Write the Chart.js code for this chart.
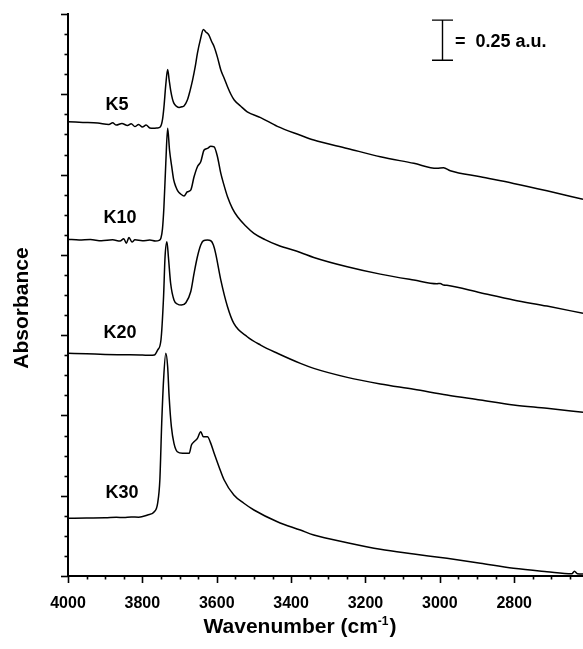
<!DOCTYPE html>
<html><head><meta charset="utf-8">
<script src="https://cdn.jsdelivr.net/npm/chart.js@4/dist/chart.umd.min.js"></script>
<style>html,body{margin:0;padding:0;background:#fff}canvas{display:block}</style>
</head><body>
<canvas id="c" width="583" height="649"></canvas>
<script>
// ---- data (wavenumber in cm-1, absorbance in a.u., offset spectra) ----
const k5Wn  = [4000,3960,3920,3890,3880,3870,3855,3840,3830,3820,3810,3800,3790,3780,3770,3760,3752,3746,3742,3737,3732,3728,3724,3719,3715,3708,3701,3694,3688,3679,3672,3665,3658,3652,3644,3636,3630,3621,3614,3607,3598,3589,3580,3571,3562,3553,3536,3518,3482,3437,3375,3339,3249,3160,3070,3008,2990,2972,2891,2802,2712,2615];
const k5Abs = [2.829,2.825,2.821,2.812,2.822,2.808,2.818,2.806,2.817,2.799,2.812,2.796,2.808,2.790,2.788,2.790,2.796,2.84,2.92,3.06,3.155,3.09,3.026,2.97,2.943,2.925,2.918,2.922,2.927,2.964,3.02,3.088,3.17,3.255,3.34,3.404,3.39,3.369,3.33,3.296,3.23,3.151,3.10,3.047,3.00,2.964,2.927,2.891,2.855,2.80,2.745,2.715,2.663,2.611,2.570,2.539,2.543,2.524,2.486,2.445,2.399,2.346];

const k10Wn  = [4000,3970,3940,3910,3880,3860,3850,3843,3836,3828,3820,3800,3780,3765,3755,3750,3746,3742,3737,3732,3727,3721,3716,3710,3704,3697,3688,3679,3670,3661,3652,3643,3634,3625,3616,3607,3598,3589,3580,3571,3558,3544,3522,3500,3470,3437,3375,3339,3249,3160,3070,3008,2999,2990,2981,2891,2802,2712,2615];
const k10Abs = [2.097,2.092,2.095,2.088,2.094,2.086,2.100,2.073,2.108,2.080,2.094,2.088,2.092,2.086,2.090,2.105,2.16,2.30,2.57,2.788,2.653,2.549,2.47,2.424,2.395,2.379,2.366,2.393,2.403,2.486,2.549,2.580,2.653,2.663,2.677,2.673,2.611,2.507,2.43,2.362,2.29,2.237,2.18,2.134,2.095,2.061,2.015,1.984,1.926,1.880,1.843,1.820,1.822,1.812,1.810,1.764,1.719,1.681,1.636];

const k20Wn  = [4000,3950,3900,3850,3800,3780,3768,3759,3750,3743,3739,3734,3730,3724,3715,3706,3695,3683,3670,3661,3652,3643,3636,3625,3616,3609,3603,3589,3571,3554,3518,3482,3437,3375,3339,3249,3160,3070,2981,2891,2802,2712,2615];
const k20Abs = [1.387,1.384,1.380,1.378,1.376,1.374,1.376,1.407,1.470,1.739,1.988,2.082,1.988,1.823,1.719,1.694,1.687,1.702,1.770,1.885,1.988,2.061,2.088,2.092,2.088,2.061,2.009,1.843,1.677,1.573,1.490,1.438,1.387,1.324,1.293,1.237,1.196,1.163,1.127,1.096,1.065,1.044,1.019];

const k30Wn  = [4000,3950,3900,3870,3850,3830,3810,3786,3768,3759,3753,3748,3743,3737,3732,3728,3722,3715,3706,3692,3674,3668,3661,3652,3643,3636,3625,3616,3607,3594,3580,3554,3527,3500,3437,3375,3339,3249,3160,3070,2981,2891,2802,2712,2645,2638,2630,2615];
const k30Abs = [0.359,0.361,0.362,0.366,0.364,0.368,0.366,0.380,0.400,0.453,0.598,0.951,1.220,1.387,1.303,1.116,0.930,0.826,0.774,0.764,0.764,0.816,0.836,0.857,0.899,0.867,0.867,0.826,0.764,0.681,0.598,0.504,0.453,0.411,0.338,0.286,0.255,0.207,0.166,0.137,0.110,0.079,0.048,0.027,0.014,0.030,0.014,0.012];

const seriesNames = ['K5','K10','K20','K30'];
const labelWn  = [3868,3860,3860,3855];
const labelAbs = [2.902,2.198,1.482,0.486];
const xTickValues = [4000,3800,3600,3400,3200,3000,2800];
const xMinorStep = 50;
const yMajorStep = 0.5, yMinorStep = 0.125;
const xMin = 2615, xMax = 4000, yMin = 0, yMax = 3.5;
const scaleBarAU = 0.25, scaleBarTop = 3.462, scaleBarWn = 2994;
const scaleBarText = '0.25 a.u.';
const xTitle = 'Wavenumber (cm', xTitleSup = '-1', xTitleEnd = ')';
const yTitle = 'Absorbance';

// ---- chart ----
const FONT = "'Liberation Sans', Arial, Helvetica, sans-serif";
const wnSets = [k5Wn,k10Wn,k20Wn,k30Wn];
const absSets = [k5Abs,k10Abs,k20Abs,k30Abs];
const datasets = seriesNames.map((n,i)=>({
  label:n,
  data: wnSets[i].map((w,j)=>({x:w,y:absSets[i][j]})),
  borderColor:'#000', borderWidth:1.5, pointRadius:0, cubicInterpolationMode:'monotone', fill:false
}));

const overlay = {
  id:'overlay',
  afterDraw(chart){
    const ctx = chart.ctx, xs = chart.scales.x, ys = chart.scales.y;
    const ca = chart.chartArea;
    ctx.save();
    ctx.strokeStyle='#000'; ctx.fillStyle='#000';
    // x ticks
    ctx.lineWidth=1.6;
    for(let v=xMax; v>=xMin; v-=xMinorStep){
      const px = Math.round(xs.getPixelForValue(v))+0.5;
      const major = xTickValues.includes(v);
      ctx.beginPath(); ctx.moveTo(px, ca.bottom); ctx.lineTo(px, ca.bottom + (major?7:3.5)); ctx.stroke();
    }
    // y ticks
    for(let v=yMin; v<=yMax+1e-9; v+=yMinorStep){
      const py = Math.round(ys.getPixelForValue(v))+0.5;
      const major = Math.abs(v/yMajorStep - Math.round(v/yMajorStep))<1e-6;
      ctx.beginPath(); ctx.moveTo(ca.left, py); ctx.lineTo(ca.left - (major?7:3.5), py); ctx.stroke();
    }
    // series labels
    ctx.font = 'bold 18px '+FONT; ctx.textAlign='center'; ctx.textBaseline='alphabetic';
    seriesNames.forEach((n,i)=>{
      ctx.fillText(n, xs.getPixelForValue(labelWn[i]), ys.getPixelForValue(labelAbs[i]));
    });
    // scale bar
    const bx = Math.round(xs.getPixelForValue(scaleBarWn))+0.5;
    const bt = ys.getPixelForValue(scaleBarTop), bb = ys.getPixelForValue(scaleBarTop - scaleBarAU);
    ctx.lineWidth=1.4;
    ctx.beginPath();
    ctx.moveTo(bx,bt); ctx.lineTo(bx,bb);
    ctx.moveTo(bx-10.5,bt); ctx.lineTo(bx+10.5,bt);
    ctx.moveTo(bx-10.5,bb); ctx.lineTo(bx+10.5,bb);
    ctx.stroke();
    ctx.textAlign='left';
    const tb = (bt+bb)/2 + 6.5;
    ctx.fillText('=', bx+12.5, tb);
    ctx.fillText(scaleBarText, bx+33, tb);
    // y title
    ctx.save();
    ctx.font='bold 21px '+FONT;
    ctx.translate(28, (ca.top+ca.bottom)/2 + 13);
    ctx.rotate(-Math.PI/2);
    ctx.textAlign='center'; ctx.textBaseline='alphabetic';
    ctx.fillText(yTitle,0,0);
    ctx.restore();
    // x title with superscript
    ctx.font='bold 21px '+FONT;
    const w1 = ctx.measureText(xTitle).width, w3 = ctx.measureText(xTitleEnd).width;
    ctx.font='bold 12px '+FONT;
    const w2 = ctx.measureText(xTitleSup).width;
    const total = w1+w2+w3+1;
    let tx = 300 - total/2; const ty = 633;
    ctx.textAlign='left';
    ctx.font='bold 21px '+FONT; ctx.fillText(xTitle, tx, ty); tx += w1;
    ctx.font='bold 12px '+FONT; ctx.fillText(xTitleSup, tx, ty-8); tx += w2+1;
    ctx.font='bold 21px '+FONT; ctx.fillText(xTitleEnd, tx, ty);
    ctx.restore();
  }
};

new Chart(document.getElementById('c'), {
  type:'line',
  data:{datasets},
  options:{
    responsive:false, animation:false, devicePixelRatio:1,
    layout:{padding:{top:14,right:0,left:0,bottom:0}},
    plugins:{legend:{display:false}, tooltip:{enabled:false}},
    scales:{
      x:{
        type:'linear', reverse:true, min:xMin, max:xMax,
        afterFit(s){ s.height = 73; },
        afterBuildTicks(s){ s.ticks = xTickValues.map(v=>({value:v})); },
        ticks:{ color:'#000', font:{family:FONT,size:16,weight:'bold'}, padding:18, maxRotation:0, autoSkip:false,
                callback:(v)=>String(v) },
        grid:{display:false, drawTicks:false},
        border:{display:true, color:'#000', width:2}
      },
      y:{
        type:'linear', min:yMin, max:yMax,
        afterFit(s){ s.width = 68; },
        ticks:{display:false, stepSize:yMajorStep},
        grid:{display:false, drawTicks:false},
        border:{display:true, color:'#000', width:2}
      }
    }
  },
  plugins:[overlay]
});
</script>
</body></html>
